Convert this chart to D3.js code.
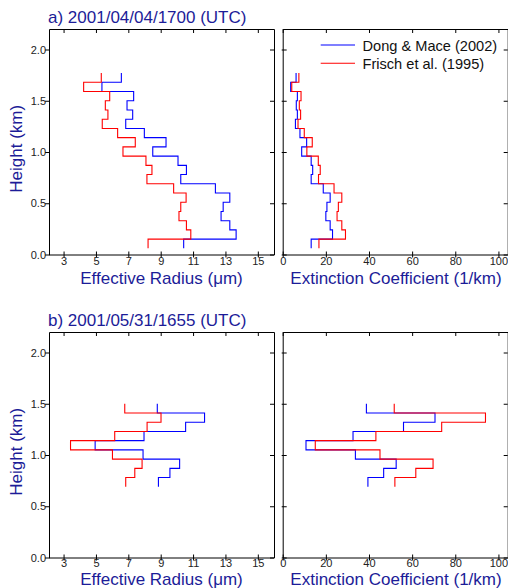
<!DOCTYPE html>
<html>
<head>
<meta charset="utf-8">
<script src="https://cdn.jsdelivr.net/npm/d3@7"></script>
<style>
  body { margin: 0; background: #fff; }
  svg { font-family: "Liberation Sans", Arial, sans-serif; }
  .tick text { font-size: 11px; fill: #222; }
</style>
</head>
<body>
<div id="chart"></div>
<script>
// layer boundaries (km), top to bottom
let hA = [1.77, 1.68, 1.59, 1.50, 1.41, 1.32, 1.23, 1.14, 1.05, 0.96, 0.87, 0.78, 0.69, 0.60, 0.51, 0.42, 0.33, 0.24, 0.15, 0.06];
let hB = [1.50, 1.41, 1.32, 1.23, 1.14, 1.05, 0.96, 0.87, 0.78, 0.69];

// case a) effective radius (um)
let reDongA = [6.57, 5.37, 7.33, 6.92, 7.27, 6.84, 7.99, 9.33, 8.51, 10.07, 10.59, 10.24, 12.38, 13.27, 12.86, 12.73, 13.27, 13.66, 10.42];
let reFrischA = [5.33, 4.24, 5.85, 5.58, 5.74, 5.39, 6.34, 7.43, 6.67, 8.09, 8.46, 8.15, 9.80, 10.57, 10.24, 10.13, 10.59, 10.86, 8.22];
// case a) extinction (1/km)
let exDongA = [6.2, 3.7, 6.8, 6.3, 6.8, 5.9, 8.0, 11.1, 8.8, 13.2, 13.9, 13.2, 18.8, 22.0, 20.5, 20.0, 22.0, 23.1, 13.2];
let exFrischA = [7.5, 4.2, 8.5, 7.7, 8.3, 7.1, 10.0, 13.7, 11.2, 16.5, 17.4, 16.6, 23.8, 27.4, 25.8, 25.2, 27.4, 29.1, 16.8];

// case b)
let reDongB = [8.79, 11.71, 10.54, 7.97, 4.95, 7.91, 10.17, 9.57, 8.86];
let reFrischB = [6.78, 9.02, 8.16, 6.16, 3.43, 6.02, 7.85, 7.40, 6.84];
let exDongB = [38.8, 70.6, 56.0, 32.6, 10.8, 33.7, 52.6, 46.8, 39.5];
let exFrischB = [51.7, 94.0, 73.7, 43.2, 15.1, 45.1, 69.7, 61.7, 52.0];

let titles = ["a) 2001/04/04/1700 (UTC)", "b) 2001/05/31/1655 (UTC)"];
let seriesNames = ["Dong & Mace (2002)", "Frisch et al. (1995)"];
let reTicks = [3, 5, 7, 9, 11, 13, 15];
let exTicks = [0, 20, 40, 60, 80, 100];
let hTicks = [0, 0.5, 1.0, 1.5, 2.0];

let W = 508, H = 588;
let navy = "#1c1c98";
let colors = ["#0000ff", "#ff0000"];

let svg = d3.select("#chart").append("svg")
  .attr("width", W).attr("height", H);

let leftX = [49, 274], rightX = [282.7, 507.7];
let rowsY = [[29, 254.5], [332, 557.5]];
let labelDy = [29, 27.5];
let tickDy = [3, 1.5];

let cases = [
  { title: titles[0], h: hA, re: [reDongA, reFrischA], ex: [exDongA, exFrischA] },
  { title: titles[1], h: hB, re: [reDongB, reFrischB], ex: [exDongB, exFrischB] }
];

function stepPoints(vals, h) {
  let pts = [];
  vals.forEach(function(v, i) {
    pts.push([v, h[i]]);
    pts.push([v, h[i + 1]]);
  });
  return pts;
}

function panel(g, x, y, ticks, isLeft, series, h, tdy) {
  let x0 = x.range()[0], x1 = x.range()[1];
  let y0 = y.range()[1], y1 = y.range()[0];

  // data lines
  let line = d3.line().x(d => x(d[0])).y(d => y(d[1]));
  series.forEach(function(s, k) {
    g.append("path").datum(stepPoints(s, h))
      .attr("fill", "none")
      .attr("stroke", colors[k])
      .attr("stroke-width", 1.1)
      .attr("d", line);
  });

  // bottom axis, ticks crossing the line
  let bx = g.append("g").attr("transform", "translate(0," + y1 + ")")
    .call(d3.axisBottom(x).tickValues(ticks).tickSize(3).tickSizeOuter(0).tickFormat(d3.format("d")));
  bx.selectAll(".tick line").attr("y1", -3).attr("y2", 3);
  bx.selectAll(".tick text").attr("y", tdy);

  // top axis, inward ticks
  g.append("g").attr("transform", "translate(0," + y0 + ")")
    .call(d3.axisTop(x).tickValues(ticks).tickSize(-4).tickSizeOuter(0).tickFormat(""));

  // left axis
  let ly = g.append("g").attr("transform", "translate(" + x0 + ",0)")
    .call(d3.axisLeft(y).tickValues(hTicks).tickSize(4).tickSizeOuter(0)
      .tickFormat(isLeft ? d3.format(".1f") : ""));
  if (isLeft) {
    ly.selectAll(".tick line").attr("x1", 1).attr("x2", -4);
    ly.selectAll(".tick text").attr("x", -3);
  } else {
    ly.selectAll(".tick line").attr("x1", -1).attr("x2", 4);
  }

  // right axis, inward ticks
  g.append("g").attr("transform", "translate(" + x1 + ",0)")
    .call(d3.axisRight(y).tickValues(hTicks).tickSize(-4).tickSizeOuter(0).tickFormat(""));

  g.selectAll(".domain").attr("stroke", "#000");
  g.selectAll(".tick line").attr("stroke", "#000");
}

cases.forEach(function(c, r) {
  let yr = rowsY[r];
  let y = d3.scaleLinear().domain([0, 2.2]).range([yr[1], yr[0]]);
  let xRe = d3.scaleLinear().domain([2.1, 16]).range(leftX);
  let xEx = d3.scaleLinear().domain([0, 104.3]).range(rightX);

  panel(svg.append("g"), xRe, y, reTicks, true, c.re, c.h, tickDy[r]);
  panel(svg.append("g"), xEx, y, exTicks, false, c.ex, c.h, tickDy[r]);

  svg.append("text")
    .attr("x", 48).attr("y", yr[0] - 6)
    .attr("font-size", 17).attr("fill", navy)
    .text(c.title);

  svg.append("text")
    .attr("transform", "translate(22," + ((yr[0] + yr[1]) / 2 + 7) + ") rotate(-90)")
    .attr("text-anchor", "middle")
    .attr("font-size", 17).attr("fill", navy)
    .text("Height (km)");

  svg.append("text")
    .attr("x", (leftX[0] + leftX[1]) / 2).attr("y", yr[1] + labelDy[r])
    .attr("text-anchor", "middle")
    .attr("font-size", 17).attr("fill", navy)
    .text("Effective Radius (\u03bcm)");

  svg.append("text")
    .attr("x", 396).attr("y", yr[1] + labelDy[r])
    .attr("text-anchor", "middle")
    .attr("font-size", 17).attr("fill", navy)
    .text("Extinction Coefficient (1/km)");
});

// legend in the top right panel
let legend = svg.append("g");
seriesNames.forEach(function(n, k) {
  let ly = 45 + k * 18.3;
  legend.append("line")
    .attr("x1", 320.7).attr("x2", 355)
    .attr("y1", ly).attr("y2", ly)
    .attr("stroke", colors[k]).attr("stroke-width", 1.1);
  legend.append("text")
    .attr("x", 362.5).attr("y", ly + 5.5)
    .attr("font-size", 14.6).attr("fill", "#111")
    .text(n);
});
</script>
</body>
</html>
